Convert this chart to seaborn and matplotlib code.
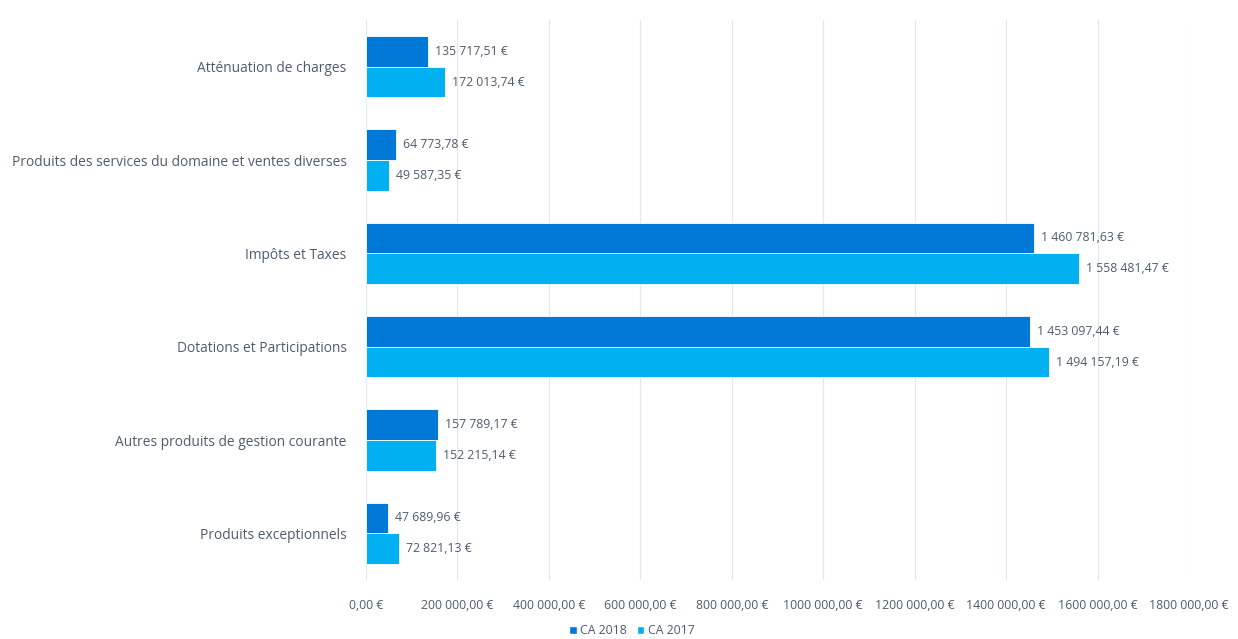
import matplotlib
matplotlib.use("Agg")
import matplotlib.pyplot as plt
import seaborn as sns
import pandas as pd

categories = [
    "Atténuation de charges",
    "Produits des services du domaine et ventes diverses",
    "Impôts et Taxes",
    "Dotations et Participations",
    "Autres produits de gestion courante",
    "Produits exceptionnels",
]
ca_2018 = [135717.51, 64773.78, 1460781.63, 1453097.44, 157789.17, 47689.96]
ca_2017 = [172013.74, 49587.35, 1558481.47, 1494157.19, 152215.14, 72821.13]
series_names = ["CA 2018", "CA 2017"]
x_ticks = [0, 200000, 400000, 600000, 800000, 1000000, 1200000, 1400000, 1600000, 1800000]
x_tick_labels = ["0,00 €", "200 000,00 €", "400 000,00 €", "600 000,00 €", "800 000,00 €",
                 "1000 000,00 €", "1200 000,00 €", "1400 000,00 €", "1600 000,00 €", "1800 000,00 €"]

rows = []
for c, v in zip(categories, ca_2018):
    rows.append({"cat": c, "val": v, "serie": series_names[0]})
for c, v in zip(categories, ca_2017):
    rows.append({"cat": c, "val": v, "serie": series_names[1]})
df = pd.DataFrame(rows)

sns.set_theme(style="white")
plt.rcParams["font.family"] = ["Open Sans", "DejaVu Sans"]

text_col = "#4E5B6E"
colors = ["#0078D7", "#00B0F0"]

fig = plt.figure(figsize=(12.38, 6.39), dpi=100)
ax = fig.add_axes([366/1238, 1 - 580/639, (1189 - 366)/1238, 560/639])

sns.barplot(data=df, y="cat", x="val", hue="serie", orient="h", order=categories,
            hue_order=series_names, palette=colors, saturation=1, width=0.66, ax=ax,
            edgecolor="white", linewidth=0.6, legend=False, errorbar=None)

def fmt(v):
    s = f"{v:,.2f}"
    return s.replace(",", " ").replace(".", ",") + " €"

for cont, vals in zip(ax.containers, [ca_2018, ca_2017]):
    ax.bar_label(cont, labels=[fmt(v) for v in vals], padding=5, fontsize=8.8, color=text_col)

ax.set_xlim(0, 1800000)
ax.set_ylim(len(categories) - 0.5, -0.5)
ax.set_xticks(x_ticks)
ax.set_xticklabels(x_tick_labels, fontsize=8.8, color=text_col)
ax.tick_params(axis="y", labelsize=9.9, labelcolor=text_col, length=0, pad=14)
ax.tick_params(axis="x", length=0, pad=14)
ax.set_xlabel("")
ax.set_ylabel("")
ax.grid(axis="x", color="#E3E8EE", linewidth=0.9)
ax.set_axisbelow(True)
for s in ax.spines.values():
    s.set_visible(False)

from matplotlib.patches import Patch
handles = [Patch(facecolor=colors[0]), Patch(facecolor=colors[1])]
fig.legend(handles, series_names, loc="center", bbox_to_anchor=(632/1238, 1 - 631/639),
           ncol=2, frameon=False, fontsize=8.8, handlelength=0.6, handleheight=0.6,
           handletextpad=0.3, columnspacing=0.8, labelcolor=text_col)

fig.savefig("out.png", dpi=100)
